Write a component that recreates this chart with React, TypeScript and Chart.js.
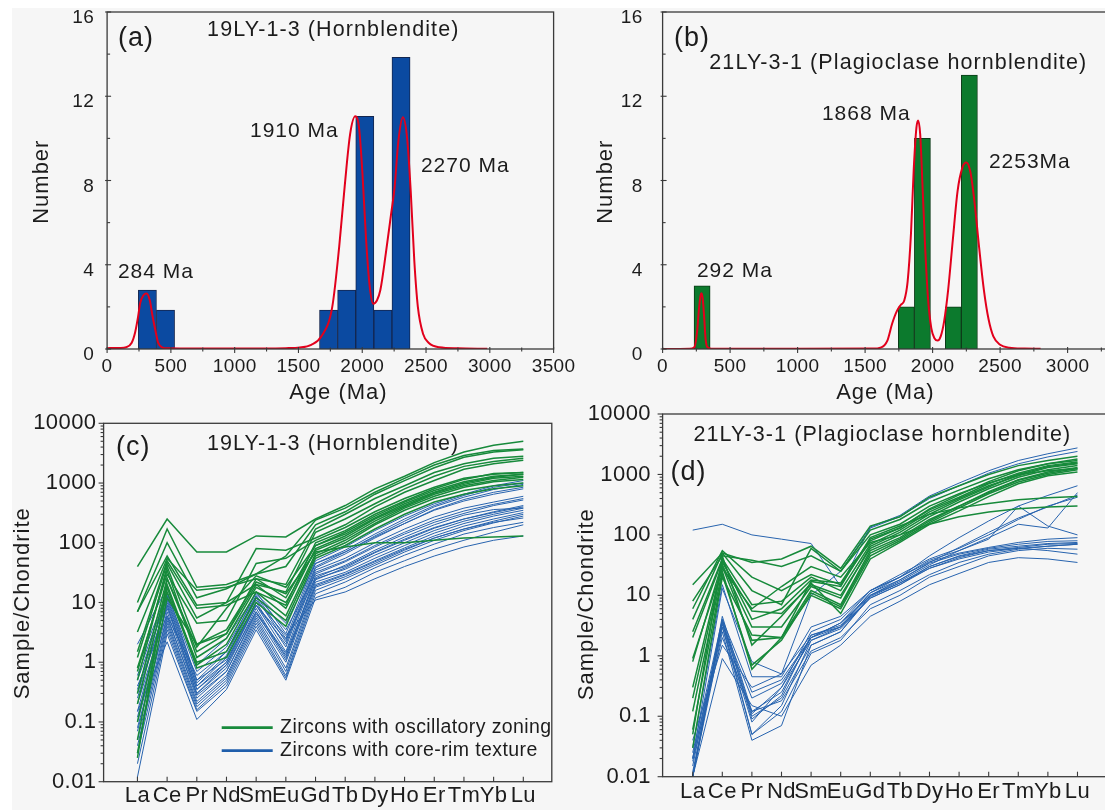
import React, { useEffect, useRef } from "react";
import { Chart, registerables } from "chart.js";

Chart.register(...registerables);

// ---------- shared axis values ----------
const ageTicks = [0, 500, 1000, 1500, 2000, 2500, 3000, 3500];
const ageMinorTicks = [250, 750, 1250, 1750, 2250, 2750, 3250];
const countTicks = [0, 4, 8, 12, 16];
const countMinorTicks = [2, 6, 10, 14];
const ree = ["La", "Ce", "Pr", "Nd", "Sm", "Eu", "Gd", "Tb", "Dy", "Ho", "Er", "Tm", "Yb", "Lu"];
const logTicks = [0.01, 0.1, 1, 10, 100, 1000, 10000];
const logMinorTicks = [0.01, 0.1, 1, 10, 100, 1000].flatMap((d) => [2, 3, 4, 5, 6, 7, 8, 9].map((m) => +(d * m).toPrecision(2)));

// ---------- (a) 19LY-1-3 ----------
const binWidthA = 142;
const binStartA = [245, 387, 1665, 1807, 1949, 2091, 2233];
const binCountA = [2.8, 1.85, 1.85, 2.8, 11.05, 1.85, 13.85];
const curveA: [number, number][] = [
  [0, 0.04], [100, 0.05], [150, 0.08], [193, 0.3], [220, 0.8], [242, 1.5], [260, 2.2], [285, 2.55],
  [310, 2.64], [335, 2.3], [355, 1.6], [383, 0.75], [400, 0.3], [430, 0.08], [480, 0.03], [700, 0.02],
  [1000, 0.02], [1400, 0.04], [1510, 0.07], [1600, 0.2], [1680, 0.6], [1765, 2.0], [1820, 4.9],
  [1862, 7.7], [1905, 10.2], [1945, 11.05], [1975, 10.5], [2002, 8.3], [2030, 5.2], [2058, 3.0],
  [2086, 2.15], [2115, 2.3], [2142, 2.8], [2184, 4.5], [2226, 6.4], [2254, 7.7], [2282, 9.8],
  [2318, 11.0], [2352, 10.0], [2380, 7.5], [2408, 4.2], [2436, 2.0], [2478, 0.7], [2520, 0.3],
  [2604, 0.08], [2750, 0.03], [2980, 0.01],
];

// ---------- (b) 21LY-3-1 ----------
const binWidthB = 119;
const binStartB = [233, 1746, 1865, 2094, 2213];
const binCountB = [3, 2, 10, 2, 13];
const curveB: [number, number][] = [
  [0, 0], [200, 0.01], [235, 0.08], [255, 0.8], [268, 1.8], [280, 2.5], [288, 2.65], [297, 2.4],
  [308, 1.5], [318, 0.5], [330, 0.1], [360, 0.01], [1000, 0.01], [1550, 0.02], [1620, 0.08],
  [1665, 0.4], [1700, 1.2], [1735, 1.8], [1765, 2.1], [1790, 2.3], [1815, 3.2], [1840, 5.5],
  [1860, 8.5], [1880, 10.5], [1893, 10.85], [1908, 10.2], [1925, 7.8], [1945, 4.8], [1965, 2.5],
  [1990, 1.0], [2015, 0.5], [2037, 0.4], [2060, 0.6], [2085, 1.3], [2115, 2.8], [2150, 5.2],
  [2185, 7.5], [2220, 8.6], [2250, 8.85], [2280, 8.4], [2310, 7.0], [2345, 4.8], [2380, 2.8],
  [2415, 1.4], [2450, 0.6], [2500, 0.2], [2570, 0.06], [2680, 0.02], [2800, 0.01],
];

// ---------- (c) REE patterns, 19LY-1-3 ----------
const oscillatoryC: number[][] = [
  [40, 250, 70, 70, 130, 125, 250, 420, 800, 1300, 2200, 3300, 4300, 5000],
  [10, 170, 18, 20, 30, 60, 240, 380, 700, 1200, 2000, 2900, 3500, 3700],
  [7, 100, 12, 17, 30, 40, 200, 330, 650, 1100, 1800, 2700, 3300, 3600],
  [3.2, 55, 16, 18, 25, 20, 170, 300, 550, 900, 1500, 2100, 2600, 2800],
  [7, 60, 9, 10, 20, 15, 150, 250, 450, 800, 1300, 1900, 2300, 2600],
  [1.2, 45, 5.5, 10, 80, 75, 120, 200, 400, 700, 1100, 1700, 2100, 2400],
  [0.8, 30, 4.5, 5, 45, 55, 110, 180, 330, 550, 850, 1200, 1400, 1500],
  [0.5, 40, 2, 3, 25, 12, 90, 150, 280, 480, 750, 1050, 1300, 1400],
  [0.3, 25, 1.5, 3, 20, 8, 80, 130, 250, 420, 680, 950, 1200, 1300],
  [0.7, 35, 1.2, 2.5, 18, 10, 75, 120, 230, 400, 650, 900, 1100, 1250],
  [0.2, 20, 0.9, 2, 15, 6, 65, 110, 210, 380, 600, 850, 1050, 1150],
  [0.1, 15, 1, 1.5, 12, 5, 60, 100, 200, 350, 550, 750, 900, 1000],
  [0.05, 18, 0.8, 1.2, 10, 4, 55, 90, 170, 300, 480, 650, 800, 900],
  [0.03, 12, 2, 3.5, 22, 14, 70, 85, 100, 100, 110, 120, 125, 130],
  [0.025, 25, 1.8, 8, 28, 18, 90, 140, 260, 450, 700, 1000, 1250, 1400],
  [1.5, 50, 8, 9, 15, 9, 100, 160, 300, 500, 800, 1150, 1450, 1500],
];
const coreRimC: number[][] = [
  [0.8, 15, 0.5, 1.5, 15, 3, 50, 85, 160, 280, 450, 650, 900, 1100],
  [0.5, 12, 0.45, 1.3, 13, 2.5, 45, 75, 140, 250, 420, 620, 850, 1000],
  [0.3, 10, 0.4, 1.2, 12, 2.2, 40, 70, 130, 230, 400, 580, 780, 950],
  [2, 18, 0.9, 2.5, 14, 4.5, 45, 70, 125, 210, 350, 500, 650, 800],
  [0.2, 8, 0.35, 1, 10, 1.8, 35, 55, 100, 170, 270, 380, 480, 600],
  [0.15, 9, 0.3, 0.9, 9, 1.5, 32, 50, 90, 150, 240, 340, 440, 550],
  [0.1, 7, 0.3, 0.8, 8, 1.2, 28, 40, 70, 115, 180, 250, 320, 400],
  [0.07, 6, 0.25, 0.7, 7, 1.1, 25, 36, 62, 100, 160, 230, 300, 380],
  [0.05, 5, 0.22, 0.6, 6, 1, 22, 32, 55, 90, 145, 210, 280, 350],
  [0.04, 4.5, 0.2, 0.55, 5.5, 0.8, 20, 30, 50, 82, 130, 190, 250, 320],
  [0.03, 4, 0.18, 0.5, 5, 0.7, 18, 27, 45, 75, 120, 170, 230, 300],
  [0.02, 3.5, 0.16, 0.45, 4.5, 0.6, 16, 25, 42, 70, 110, 160, 215, 280],
  [0.012, 3, 0.15, 0.4, 4, 0.55, 14, 22, 38, 62, 95, 140, 180, 220],
  [0.15, 2.2, 0.11, 0.35, 3.5, 0.5, 12, 18, 32, 50, 78, 110, 150, 200],
  [0.4, 6, 0.6, 1.5, 11, 2.8, 11, 15, 25, 40, 60, 85, 110, 130],
  [0.25, 11, 0.4, 1, 9, 2, 38, 65, 120, 210, 360, 530, 700, 850],
  [0.6, 14, 0.7, 1.8, 13, 3.5, 30, 48, 85, 140, 220, 310, 420, 520],
  [0.12, 9, 0.35, 0.9, 7, 1.4, 24, 38, 68, 110, 175, 250, 330, 420],
  [0.35, 13, 0.5, 1.1, 9, 2.4, 26, 42, 75, 125, 200, 290, 360, 380],
  [0.08, 5.5, 0.28, 0.7, 6.5, 1.3, 19, 29, 48, 78, 120, 170, 220, 260],
];

// ---------- (d) REE patterns, 21LY-3-1 ----------
const oscillatoryD: number[][] = [
  [15, 50, 35, 40, 65, 28, 140, 200, 420, 650, 1000, 1400, 1700, 2000],
  [8, 45, 38, 30, 45, 25, 120, 180, 350, 550, 850, 1200, 1500, 1800],
  [6, 55, 20, 12, 22, 15, 80, 130, 260, 420, 700, 1050, 1400, 1600],
  [2.5, 40, 7, 8, 20, 12, 70, 120, 240, 400, 650, 950, 1300, 1500],
  [0.8, 35, 5.5, 5, 15, 10, 60, 100, 200, 350, 580, 900, 1200, 1400],
  [0.2, 30, 1.8, 2, 12, 7, 55, 90, 180, 300, 520, 820, 1100, 1300],
  [0.12, 25, 0.6, 2, 10, 6, 45, 80, 160, 280, 480, 750, 1000, 1200],
  [0.05, 45, 1.5, 4.5, 16, 5, 40, 75, 150, 250, 430, 700, 950, 1100],
  [0.03, 20, 2.2, 2, 17, 14, 90, 140, 220, 280, 330, 380, 410, 430],
  [0.9, 28, 6, 14, 30, 20, 75, 100, 150, 200, 240, 270, 290, 300],
  [2, 38, 4, 6, 18, 16, 85, 130, 270, 460, 760, 1150, 1500, 1700],
  [0.3, 32, 3, 3, 14, 9, 65, 110, 220, 380, 620, 1000, 1350, 1550],
  [4, 50, 12, 7, 60, 25, 100, 150, 300, 480, 720, 1000, 1150, 1250],
  [0.06, 22, 0.7, 1.8, 11, 6.5, 50, 85, 170, 300, 500, 800, 1050, 1250],
];
const coreRimD: number[][] = [
  [120, 150, 100, 85, 72, 14, 135, 210, 440, 720, 1150, 1700, 2200, 2750],
  [0.02, 13, 0.8, 0.5, 10, 25, 130, 200, 400, 650, 1050, 1500, 1950, 2400],
  [0.01, 4, 0.25, 0.4, 2, 3, 11, 20, 45, 90, 170, 300, 450, 650],
  [0.02, 3.5, 0.1, 0.2, 1.5, 2.5, 10, 18, 35, 62, 110, 190, 290, 456],
  [0.01, 4.5, 0.12, 0.25, 2, 3.5, 12, 20, 38, 55, 85, 300, 140, 100],
  [0.012, 3, 0.08, 0.3, 1.8, 3, 10, 17, 32, 55, 90, 150, 130, 500],
  [0.015, 3.8, 0.09, 0.22, 2.2, 3.2, 11, 18, 34, 48, 60, 70, 78, 80],
  [0.02, 3, 0.05, 0.15, 1.8, 2.8, 9, 15, 30, 45, 58, 65, 72, 75],
  [0.01, 2.5, 0.04, 0.07, 1.5, 2.5, 9.5, 16, 28, 42, 55, 62, 70, 72],
  [0.025, 4, 0.11, 0.3, 2.5, 4, 12, 20, 36, 50, 62, 75, 85, 90],
  [0.01, 3.3, 0.2, 0.35, 2, 3.5, 10, 16, 30, 44, 55, 60, 65, 70],
  [0.04, 1.5, 0.3, 0.5, 2.2, 3, 9, 15, 28, 40, 52, 60, 55, 48],
  [0.01, 0.9, 0.15, 0.1, 0.7, 1.5, 4.5, 8, 15, 23, 35, 42, 40, 35],
  [0.018, 2, 0.12, 0.18, 1.2, 2, 6, 10, 20, 30, 45, 55, 60, 58],
  [0.03, 15, 0.45, 0.45, 3, 4.5, 12, 22, 40, 60, 100, 180, 300, 420],
  [0.01, 3.6, 0.05, 0.12, 1.1, 1.8, 7, 12, 22, 35, 48, 58, 65, 70],
];

const legendItems = [
  { text: "Zircons with oscillatory zoning", color: "#178a3b" },
  { text: "Zircons with core-rim texture", color: "#1f5eab" },
];

// ---------- styles ----------
const FONT = "'Liberation Sans', Arial, Helvetica, sans-serif";
const INK = "#1c1c1c";
const FRAME = "#3a3a3a";
const RED = "#e2001c";
const GREEN = "#178a3b";
const BLUE = "#2763ae";

type Txt = { text: string; x: number; y: number; size: number; at?: "data" | "area"; align?: CanvasTextAlign; rotate?: boolean; ls?: number };

// Frame, tick marks, labels and legend drawn on top of each panel
const decorPlugin = {
  id: "decor",
  beforeDraw(chart: any) {
    (chart.ctx as any).letterSpacing = "0.4px";
  },
  afterDraw(chart: any, _args: any, o: any) {
    const { ctx, chartArea: A, scales } = chart;
    const xs = scales.x;
    const ys = scales.y;
    ctx.save();
    ctx.strokeStyle = FRAME;
    ctx.lineWidth = 1.3;
    ctx.strokeRect(A.left, A.top, A.right - A.left, A.bottom - A.top);
    ctx.lineWidth = 1.1;
    const marks = (scale: any, values: number[], inLen: number, outLen: number) => {
      for (const v of values) {
        const p = scale.getPixelForValue(v);
        ctx.beginPath();
        if (scale.isHorizontal()) {
          ctx.moveTo(p, A.bottom - inLen);
          ctx.lineTo(p, A.bottom + outLen);
        } else {
          ctx.moveTo(A.left - outLen, p);
          ctx.lineTo(A.left + inLen, p);
        }
        ctx.stroke();
      }
    };
    const t = o.ticks;
    marks(xs, xs.ticks.map((k: any) => k.value), t.xIn, t.xOut);
    marks(xs, o.xMinor || [], t.xMinorIn, t.xMinorOut);
    marks(ys, ys.ticks.map((k: any) => k.value), t.yIn, t.yOut);
    marks(ys, o.yMinor || [], t.yMinorIn, t.yMinorOut);

    ctx.fillStyle = INK;
    ctx.textBaseline = "middle";
    for (const s of (o.texts || []) as Txt[]) {
      const x = s.at === "data" ? xs.getPixelForValue(s.x) : A.left + s.x;
      const y = s.at === "data" ? ys.getPixelForValue(s.y) : A.top + s.y;
      ctx.font = `${s.size}px ${FONT}`;
      ctx.letterSpacing = `${s.ls ?? 1}px`;
      ctx.textAlign = s.align || "left";
      if (s.rotate) {
        ctx.save();
        ctx.translate(x, y);
        ctx.rotate(-Math.PI / 2);
        ctx.fillText(s.text, 0, 0);
        ctx.restore();
      } else {
        ctx.fillText(s.text, x, y);
      }
    }
    if (o.legend) {
      const L = o.legend;
      ctx.font = `${L.size}px ${FONT}`;
      ctx.letterSpacing = "0.4px";
      ctx.textAlign = "left";
      L.items.forEach((it: any, i: number) => {
        const y = A.top + L.y + i * L.gap;
        ctx.strokeStyle = it.color;
        ctx.lineWidth = 2.8;
        ctx.beginPath();
        ctx.moveTo(A.left + L.x, y);
        ctx.lineTo(A.left + L.x + L.len, y);
        ctx.stroke();
        ctx.fillStyle = INK;
        ctx.fillText(it.text, A.left + L.x + L.textGap, y);
      });
    }
    ctx.restore();
  },
};

const fixedTicks = (values: number[]) => (scale: any) => {
  scale.ticks = values.map((value) => ({ value }));
};

// Fixes an axis box size and drops the label overhang, so the plot area sits exactly inside the layout padding
const fixedBox = (size: { width?: number; height?: number }) => (s: any) => {
  if (size.width !== undefined) s.width = size.width;
  if (size.height !== undefined) s.height = size.height;
  s.paddingTop = 0;
  s.paddingBottom = 0;
  s.paddingLeft = 0;
  s.paddingRight = 0;
};

type HistPanel = {
  starts: number[];
  width: number;
  counts: number[];
  curve: [number, number][];
  fill: string;
  edge: string;
  pad: { left: number; right: number };
  yAxisWidth: number;
  yLabelPad: number;
  lastLabel: number;
  texts: Txt[];
};

function histogramConfig(p: HistPanel): any {
  return {
    type: "bar",
    data: {
      datasets: [
        {
          type: "line",
          data: p.curve.map(([x, y]) => ({ x, y })),
          borderColor: RED,
          borderWidth: 2,
          pointRadius: 0,
          cubicInterpolationMode: "monotone",
          order: 0,
        },
        {
          type: "bar",
          data: p.starts.map((s, i) => ({ x: s + p.width / 2, y: p.counts[i] })),
          backgroundColor: p.fill,
          borderColor: p.edge,
          borderWidth: 1,
          barPercentage: 1,
          categoryPercentage: 1,
          order: 1,
        },
      ],
    },
    options: {
      animation: false,
      responsive: false,
      events: [],
      layout: { padding: { left: p.pad.left, right: p.pad.right, top: 12, bottom: 401 } },
      plugins: {
        legend: { display: false },
        tooltip: { enabled: false },
        decor: {
          ticks: { xIn: 2, xOut: 4, xMinorIn: 1.5, xMinorOut: 2.5, yIn: 4, yOut: 2, yMinorIn: 3, yMinorOut: 0 },
          xMinor: ageMinorTicks,
          yMinor: countMinorTicks,
          texts: p.texts,
        },
      },
      scales: {
        x: {
          type: "linear",
          min: 0,
          max: 3500,
          offset: false,
          grid: { display: false, drawTicks: false },
          border: { display: false },
          afterBuildTicks: fixedTicks(ageTicks),
          afterFit: fixedBox({ height: 60 }),
          ticks: {
            autoSkip: false,
            maxRotation: 0,
            padding: 6,
            color: INK,
            font: { family: FONT, size: 19 },
            callback: (v: number) => (v <= p.lastLabel ? String(v) : ""),
          },
        },
        y: {
          type: "linear",
          min: 0,
          max: 16,
          grid: { display: false, drawTicks: false },
          border: { display: false },
          afterBuildTicks: fixedTicks(countTicks),
          afterFit: fixedBox({ width: p.yAxisWidth }),
          ticks: {
            padding: p.yLabelPad,
            labelOffset: 6,
            color: INK,
            font: { family: FONT, size: 19 },
            callback: (v: number) => String(v),
          },
        },
      },
    },
  };
}

type ReePanel = {
  green: number[][];
  blue: number[][];
  xMin: number;
  xMax: number;
  pad: { left: number; right: number; top: number; bottom: number };
  yAxisWidth: number;
  yLabelPad: number;
  xLabelPad: number;
  texts: Txt[];
  legend?: any;
};

function reeConfig(p: ReePanel): any {
  const line = (vals: number[], color: string, width: number, order: number) => ({
    data: vals.map((y, x) => ({ x, y })),
    borderColor: color,
    borderWidth: width,
    pointRadius: 0,
    tension: 0,
    order,
  });
  return {
    type: "line",
    data: {
      datasets: [
        ...p.green.map((v) => line(v, GREEN, 1.5, 0)),
        ...p.blue.map((v) => line(v, BLUE, 1, 1)),
      ],
    },
    options: {
      animation: false,
      responsive: false,
      events: [],
      layout: { padding: p.pad },
      plugins: {
        legend: { display: false },
        tooltip: { enabled: false },
        decor: {
          ticks: { xIn: 5, xOut: 0, xMinorIn: 0, xMinorOut: 0, yIn: 0, yOut: 5, yMinorIn: 0, yMinorOut: 3 },
          xMinor: [],
          yMinor: logMinorTicks,
          texts: p.texts,
          legend: p.legend,
        },
      },
      scales: {
        x: {
          type: "linear",
          min: p.xMin,
          max: p.xMax,
          grid: { display: false, drawTicks: false },
          border: { display: false },
          afterBuildTicks: fixedTicks(ree.map((_, i) => i)),
          afterFit: fixedBox({ height: 28 }),
          ticks: {
            autoSkip: false,
            maxRotation: 0,
            minRotation: 0,
            padding: p.xLabelPad,
            color: INK,
            font: { family: FONT, size: 22 },
            callback: (v: number) => ree[v] ?? "",
          },
        },
        y: {
          type: "logarithmic",
          min: 0.01,
          max: 10000,
          grid: { display: false, drawTicks: false },
          border: { display: false },
          afterBuildTicks: fixedTicks(logTicks),
          afterFit: fixedBox({ width: p.yAxisWidth }),
          ticks: {
            padding: p.yLabelPad,
            color: INK,
            font: { family: FONT, size: 22 },
            callback: (v: number) => String(v),
          },
        },
      },
    },
  };
}

const panelA: HistPanel = {
  starts: binStartA,
  width: binWidthA,
  counts: binCountA,
  curve: curveA,
  fill: "#0b4aa1",
  edge: "#14264f",
  pad: { left: 0, right: 586.4 },
  yAxisWidth: 107.1,
  yLabelPad: 13,
  lastLabel: 3500,
  texts: [
    { text: "(a)", x: 11, y: 26.5, size: 27 },
    { text: "19LY-1-3 (Hornblendite)", x: 100, y: 18, size: 21.5, ls: 1.1 },
    { text: "Number", x: -65, y: 169.7, size: 22, rotate: true, align: "center" },
    { text: "Age (Ma)", x: 231.3, y: 381, size: 22, align: "center" },
    { text: "1910 Ma", x: 1120, y: 10.35, size: 21, at: "data" },
    { text: "2270 Ma", x: 2460, y: 8.69, size: 21, at: "data" },
    { text: "284 Ma", x: 85, y: 3.63, size: 21, at: "data" },
  ],
};

const panelB: HistPanel = {
  starts: binStartB,
  width: binWidthB,
  counts: binCountB,
  curve: curveB,
  fill: "#0c7a2d",
  edge: "#0b3a17",
  pad: { left: 560, right: 4.9 },
  yAxisWidth: 102.6,
  yLabelPad: 20,
  lastLabel: 3000,
  texts: [
    { text: "(b)", x: 11.3, y: 26.3, size: 27 },
    { text: "21LY-3-1 (Plagioclase hornblendite)", x: 46.7, y: 51, size: 21.5, ls: 1.1 },
    { text: "Number", x: -57, y: 169.7, size: 22, rotate: true, align: "center" },
    { text: "Age (Ma)", x: 222.8, y: 381, size: 22, align: "center" },
    { text: "1868 Ma", x: 1180, y: 11.16, size: 21, at: "data" },
    { text: "2253Ma", x: 2417, y: 8.86, size: 21, at: "data" },
    { text: "292 Ma", x: 254, y: 3.71, size: 21, at: "data" },
  ],
};

const panelC: ReePanel = {
  green: oscillatoryC,
  blue: coreRimC,
  xMin: -1.14,
  xMax: 13.96,
  pad: { left: 0, right: 588.2, top: 423.3, bottom: 0.3 },
  yAxisWidth: 103.6,
  yLabelPad: 7.2,
  xLabelPad: 1.1,
  texts: [
    { text: "(c)", x: 12.4, y: 24.7, size: 27 },
    { text: "19LY-1-3 (Hornblendite)", x: 103.4, y: 20.7, size: 21.5, ls: 1.1 },
    { text: "Sample/Chondrite", x: -80.4, y: 180, size: 22, rotate: true, align: "center" },
  ],
  legend: { x: 118.1, y: 304.4, gap: 23, len: 51, textGap: 58.4, size: 19.5, items: legendItems },
};

const panelD: ReePanel = {
  green: oscillatoryD,
  blue: coreRimD,
  xMin: -1.017,
  xMax: 14.2,
  pad: { left: 560, right: 27, top: 414, bottom: 5.3 },
  yAxisWidth: 102.6,
  yLabelPad: 11.7,
  xLabelPad: 2.1,
  texts: [
    { text: "(d)", x: 7.8, y: 58.5, size: 27 },
    { text: "21LY-3-1 (Plagioclase hornblendite)", x: 30.8, y: 21, size: 21.5, ls: 1.1 },
    { text: "Sample/Chondrite", x: -75.4, y: 190.2, size: 22, rotate: true, align: "center" },
  ],
};

export default function App() {
  const refs = [useRef<HTMLCanvasElement>(null), useRef<HTMLCanvasElement>(null), useRef<HTMLCanvasElement>(null), useRef<HTMLCanvasElement>(null)];

  useEffect(() => {
    const configs = [histogramConfig(panelA), histogramConfig(panelB), reeConfig(panelC), reeConfig(panelD)];
    const charts = configs.map((cfg, i) => {
      cfg.plugins = [decorPlugin];
      return new Chart(refs[i].current as HTMLCanvasElement, cfg);
    });
    return () => charts.forEach((c) => c.destroy());
  }, []);

  return (
    <div style={{ position: "absolute", left: 0, top: 0, width: 1105, height: 810, overflow: "hidden", background: "#ffffff" }}>
      <div style={{ position: "absolute", left: 12, top: 8, right: 0, bottom: 0, background: "#f6f6f6" }} />
      {refs.map((r, i) => (
        <canvas key={i} ref={r} width={1140} height={810} style={{ position: "absolute", left: 0, top: 0 }} />
      ))}
    </div>
  );
}
